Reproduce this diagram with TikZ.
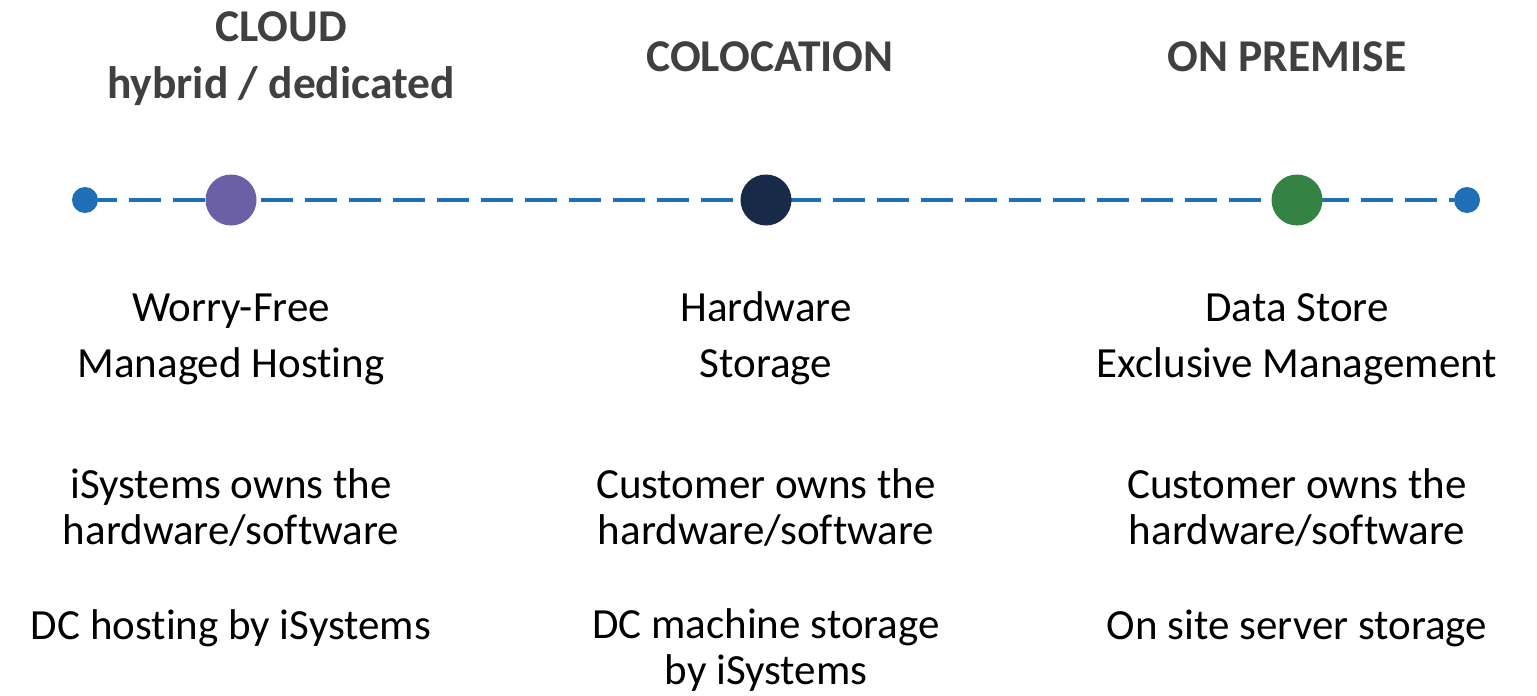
\documentclass[tikz,border=0pt]{standalone}
\usepackage{fontspec}
\setmainfont{Carlito}[Ligatures=NoCommon]
\usetikzlibrary{positioning}
\definecolor{lineblue}{HTML}{1F6EB8}
\definecolor{cloudpurple}{HTML}{6B5FA5}
\definecolor{colonavy}{HTML}{172A48}
\definecolor{premgreen}{HTML}{358245}
\definecolor{headgray}{HTML}{404040}
\tikzset{
  heading/.style={font=\fontsize{45.5}{57}\selectfont\bfseries, text=headgray, align=center, anchor=base, inner sep=0pt},
  feature/.style={font=\fontsize{43}{56}\selectfont, align=center, anchor=base, inner sep=0pt},
  owner/.style={font=\fontsize{43}{46}\selectfont, align=center, anchor=base, inner sep=0pt},
  enddot/.style={circle, fill=lineblue, inner sep=0pt, minimum size=26pt},
  stagedot/.style={circle, fill=#1, inner sep=0pt, minimum size=51pt}
}

\begin{document}
\begin{tikzpicture}[x=1pt,y=-1pt]
\useasboundingbox (0,0) rectangle (1537,696);
% timeline
\node[enddot] (start) at (85,200) {};
\node[enddot] (stop) at (1467,200) {};
\draw[lineblue, line width=4pt, dash pattern=on 32pt off 12pt, dash phase=13pt] (start) -- (stop);
\node[stagedot=cloudpurple] (cloud) at (231,200) {};
\node[stagedot=colonavy] (colo) at (766,200) {};
\node[stagedot=premgreen] (prem) at (1297,200) {};
% headings (base = last line)
\node[heading] (cloudhead) at (281,98) {CLOUD\\hybrid / dedicated};
\node[heading] (colohead) at (770,71) {COLOCATION};
\node[heading] (premhead) at (1287,71) {ON PREMISE};
% what you get
\node[feature] (cloudfeat) at (231,377) {Worry-Free\\Managed Hosting};
\node[feature] (colofeat) at (766,377) {Hardware\\Storage};
\node[feature] (premfeat) at (1297,377) {Data Store\\Exclusive Management};
% who owns it
\foreach \col/\x/\who in {cloud/231/iSystems, colo/766/Customer, prem/1297/Customer}
  \node[owner] (\col own) at (\x,544) {\who{} owns the\\hardware/software};
% where it lives
\node[owner] (cloudhost) at (231,639) {DC hosting by iSystems};
\node[owner] (colohost) at (766,684) {DC machine storage\\by iSystems};
\node[owner] (premhost) at (1297,639) {On site server storage};
\end{tikzpicture}
\end{document}
